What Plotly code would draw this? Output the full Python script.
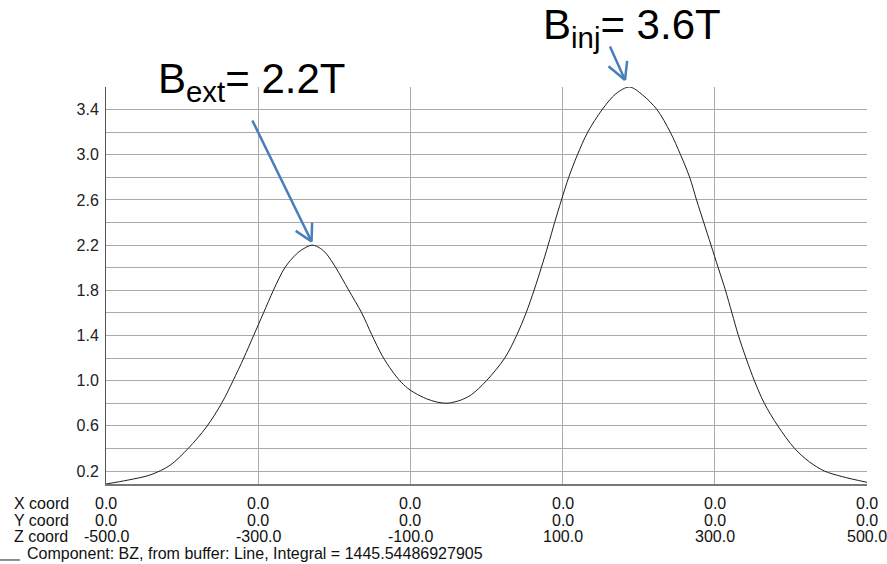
import plotly.graph_objects as go

# Longitudinal field profile along the beam line (Z in mm, BZ in T)
z_coord = [-500, -471, -442, -416, -392, -368, -348, -333, -319, -306,
           -293, -280, -265, -250, -240, -229, -218, -210, -198, -181,
           -164, -151, -137, -124, -114, -104, -94, -79, -65, -52,
           -40, -33, -20, 0, 24, 39.5, 52, 62.5, 72, 81,
           89.5, 98.5, 108, 119.5, 133, 152, 170, 188, 205, 224,
           241.5, 255, 267, 276, 285.5, 295, 304.5, 314, 322.5, 331,
           341, 352, 365, 382.8, 404.8, 424.5, 444, 467.6, 500]
bz = [0.085, 0.12, 0.165, 0.25, 0.40, 0.59, 0.80, 1.0, 1.2, 1.4,
      1.6, 1.8, 2.0, 2.12, 2.17, 2.2, 2.17, 2.12, 2.0, 1.8,
      1.6, 1.41, 1.22, 1.085, 1.0, 0.935, 0.89, 0.84, 0.81, 0.80,
      0.815, 0.83, 0.875, 1.0, 1.2, 1.4, 1.6, 1.8, 2.0, 2.2,
      2.4, 2.6, 2.8, 3.0, 3.2, 3.4, 3.54, 3.6, 3.53, 3.4,
      3.2, 3.0, 2.8, 2.6, 2.4, 2.2, 2.0, 1.8, 1.6, 1.4,
      1.2, 1.0, 0.8, 0.6, 0.4, 0.28, 0.2, 0.15, 0.1]

# Probe-line coordinates printed under the plot
coord_ticks = [-500, -300, -100, 100, 300, 500]
x_row = ["0.0", "0.0", "0.0", "0.0", "0.0", "0.0"]
y_row = ["0.0", "0.0", "0.0", "0.0", "0.0", "0.0"]
z_row = ["-500.0", "-300.0", "-100.0", "100.0", "300.0", "500.0"]
row_names = ["X coord", "Y coord", "Z coord"]

y_grid = [0.2, 0.4, 0.6, 0.8, 1.0, 1.2, 1.4, 1.6, 1.8, 2.0, 2.2, 2.4,
          2.6, 2.8, 3.0, 3.2, 3.4]
y_text = ["0.2", "", "0.6", "", "1.0", "", "1.4", "", "1.8", "", "2.2", "",
          "2.6", "", "3.0", "", "3.4"]

legend_text = "Component: BZ, from buffer: Line, Integral = 1445.54486927905"

FONT = "Liberation Sans, Arial, sans-serif"
GRID = "#a9a9a9"
ARROW = "#4a7ebb"

fig = go.Figure()
fig.add_trace(go.Scatter(
    x=z_coord, y=bz, mode="lines",
    line=dict(color="#1e1e1e", width=1, shape="spline", smoothing=0.9),
    showlegend=False, hoverinfo="skip",
))

ymin, ymax = min(bz), max(bz)

fig.update_xaxes(
    range=[-500, 500], tickvals=coord_ticks, showticklabels=False,
    showgrid=True, gridcolor=GRID, gridwidth=1, zeroline=False,
    showline=True, linecolor="#777777", linewidth=1.5, ticks="",
)
fig.update_yaxes(
    range=[ymin, ymax], tickvals=y_grid, ticktext=y_text,
    showgrid=True, gridcolor=GRID, gridwidth=1, zeroline=False,
    showline=True, linecolor="#555555", linewidth=1, ticks="",
    ticklabelstandoff=3,
    tickfont=dict(family=FONT, size=16, color="#222222"),
)

annotations = []
row_y = [-0.048, -0.092, -0.1335]
for name, ry in zip(row_names, row_y):
    annotations.append(dict(
        text=name, xref="paper", yref="paper", x=-0.1235, y=ry,
        xanchor="left", yanchor="middle", showarrow=False,
        font=dict(family=FONT, size=16, color="#111111"),
    ))
for row, ry in zip([x_row, y_row, z_row], row_y):
    for xv, label in zip(coord_ticks, row):
        annotations.append(dict(
            text=label, xref="x", yref="paper", x=xv, y=ry,
            xanchor="center", yanchor="middle", showarrow=False,
            font=dict(family=FONT, size=16, color="#111111"),
        ))
annotations.append(dict(
    text=legend_text, xref="paper", yref="paper", x=-0.1064, y=-0.174,
    xanchor="left", yanchor="middle", showarrow=False,
    font=dict(family=FONT, size=16, color="#111111"),
))

# Peak labels
annotations.append(dict(
    text="B<sub>ext</sub>= 2.2T", xref="paper", yref="paper",
    x=0.066, y=1.015, xanchor="left", yanchor="middle", showarrow=False,
    font=dict(family=FONT, size=42, color="#000000"),
))
annotations.append(dict(
    text="B<sub>inj</sub>= 3.6T", xref="paper", yref="paper",
    x=0.571, y=1.15, xanchor="left", yanchor="middle", showarrow=False,
    font=dict(family=FONT, size=42, color="#000000"),
))

# Open V arrow at the extraction peak (shaft + two barbs), data coordinates
ext_arrow = [
    (-229.9, 2.232, -308.7, 3.317),
    (-229.9, 2.232, -252.7, 2.335),
    (-229.9, 2.232, -229.1, 2.414),
]
for tx, ty, sx, sy in ext_arrow:
    annotations.append(dict(
        text="", x=tx, y=ty, ax=sx, ay=sy, xref="x", yref="y",
        axref="x", ayref="y", showarrow=True, arrowhead=0,
        arrowwidth=2.5, arrowcolor=ARROW, standoff=0, startstandoff=0,
    ))

# Open V arrow at the injection peak, tip above the plot area
inj_tip = (0.682, 1.0176)
inj_segments = [(-15.7, -35), (-18, -15), (2.3, -20.7)]
for dx, dy in inj_segments:
    annotations.append(dict(
        text="", x=inj_tip[0], y=inj_tip[1], ax=dx, ay=dy,
        xref="paper", yref="paper", axref="pixel", ayref="pixel",
        showarrow=True, arrowhead=0, arrowwidth=2.5, arrowcolor=ARROW,
        standoff=0, startstandoff=0,
    ))

fig.update_layout(
    width=887, height=564,
    margin=dict(l=106, r=20, t=87, b=80),
    paper_bgcolor="white", plot_bgcolor="white",
    annotations=annotations,
    shapes=[dict(
        type="line", xref="paper", yref="paper",
        x0=-0.1393, x1=-0.113, y0=-0.1914, y1=-0.1914,
        line=dict(color="#222222", width=1),
    )],
)

fig.write_html("out.html")
